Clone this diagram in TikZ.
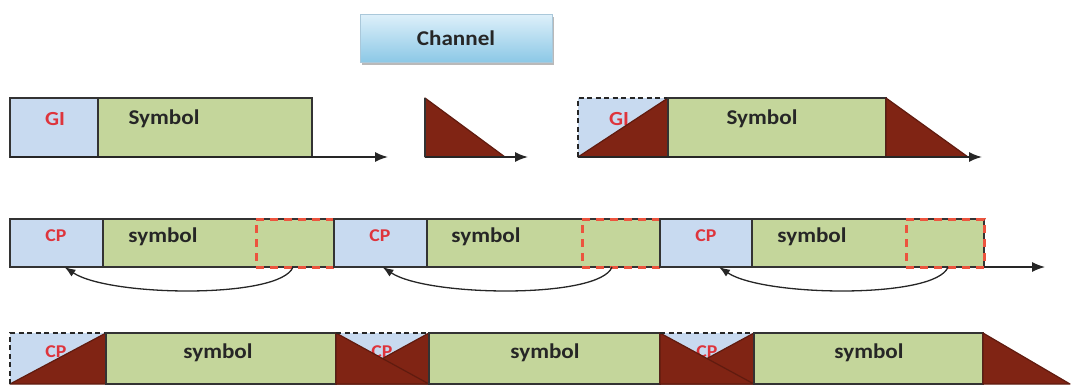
\documentclass[tikz,border=0pt]{standalone}
\usepackage{fontspec}
\setmainfont{Carlito}
\newfontfamily\lblfont{Carlito}[FakeStretch=1.1]
\usetikzlibrary{arrows.meta,shadows}

\definecolor{guardblue}{RGB}{200,218,240}
\definecolor{symgreen}{RGB}{196,214,155}
\definecolor{chanred}{RGB}{128,36,20}
\definecolor{lblred}{RGB}{222,52,60}
\definecolor{cpdash}{RGB}{236,84,62}
\definecolor{txtgray}{RGB}{38,38,38}

\begin{document}
\begin{tikzpicture}[x=1pt,y=-1pt,
  cell/.style={inner sep=0pt, outer sep=0pt, anchor=north west},
  guard/.style={cell, fill=guardblue, draw=black!80, line width=2pt},
  guardfill/.style={cell, fill=guardblue},
  data/.style={cell, fill=symgreen, draw=black!80, line width=2pt},
  tailcopy/.style={cell, draw=cpdash, line width=3pt, dash pattern=on 8pt off 6pt, minimum height=48pt},
  rowA/.style={minimum height=59pt},
  rowB/.style={minimum height=48pt},
  rowC/.style={minimum height=51pt},
  redlbl/.style={anchor=base, inner sep=0pt, text=lblred, font=\lblfont\bfseries\fontsize{20}{20}\selectfont},
  cplbl/.style={anchor=base, inner sep=0pt, text=lblred, font=\lblfont\bfseries\fontsize{18}{18}\selectfont},
  symlbl/.style={anchor=base, inner sep=0pt, text=txtgray, font=\lblfont\bfseries\fontsize{21}{21}\selectfont},
  echo/.style={fill=chanred, draw=chanred!75!black, line width=1.2pt, line join=round},
  edge/.style={draw=black!80, line width=2pt},
  axis/.style={draw=black!85, line width=1.6pt, -{Latex[length=13pt,width=10pt]}},
  copyarc/.style={draw=black!85, line width=1.3pt, -{Latex[length=11pt,width=8pt]}},
  guarddash/.style={draw=black!85, line width=1.6pt, dash pattern=on 5pt off 3.5pt},
  chanbox/.style={inner sep=0pt, outer sep=0pt, minimum width=192pt, minimum height=48pt,
    top color={rgb,255:red,222;green,240;blue,250}, middle color={rgb,255:red,238;green,248;blue,252},
    bottom color={rgb,255:red,140;green,200;blue,230},
    draw={rgb,255:red,170;green,200;blue,218}, line width=0.6pt,
    drop shadow={shadow xshift=1.5pt, shadow yshift=-2.5pt, fill=black!55},
    text=txtgray, font=\lblfont\bfseries\fontsize{21}{21}\selectfont},
]
\useasboundingbox (0,0) rectangle (1079,386);

% ---------- channel ----------
\node[chanbox] (chan) at (456,38) {Channel};

% ---------- transmitted symbol with guard interval ----------
\node[guard, rowA, minimum width=88pt] (gi1) at (10,98) {};
\node[data, rowA, minimum width=214pt] (sy1) at (98,98) {};
\node[redlbl] (gi1t) at (55,125) {GI};
\node[symlbl] (sy1t) at (164,124) {Symbol};
\coordinate (ax1) at (388,157);
\draw[axis] (gi1.south west) -- (ax1);

% ---------- channel impulse response ----------
\coordinate (h0) at (425,98);
\coordinate (h1) at (425,157);
\coordinate (h2) at (505,157);
\coordinate (ax0) at (528,157);
\filldraw[echo] (h0) -- (h1) -- (h2) -- cycle;
\draw[axis] (h1) -- (ax0);
\draw[edge] (h0) -- (h1);

% ---------- received symbol ----------
\node[guardfill, rowA, minimum width=90pt] (gi2) at (578,98) {};
\node[redlbl] (gi2t) at (619,125) {GI};
\filldraw[echo] (gi2.south west) -- (gi2.north east) -- (gi2.south east) -- cycle;
\draw[guarddash] (gi2.south west) -- (gi2.north west) -- (gi2.north east);
\node[data, rowA, minimum width=218pt] (sy2) at (668,98) {};
\node[symlbl] (sy2t) at (762,124) {Symbol};
\coordinate (tl2) at (968,157);
\filldraw[echo] (sy2.north east) -- (sy2.south east) -- (tl2) -- cycle;
\coordinate (ax2) at (982,157);
\draw[axis] (gi2.south west) -- (ax2);

% ---------- cyclic prefix stream ----------
\node[guard, rowB, minimum width=93pt] (cpa) at (10,219) {};
\node[data, rowB, minimum width=231pt] (sya) at (103,219) {};
\node[tailcopy, minimum width=78pt] (tla) at (256,219) {};
\node[cplbl] (cpat) at (56,241) {CP};
\node[symlbl] (syat) at (163,242) {symbol};

\node[guard, rowB, minimum width=93pt] (cpb) at (334,219) {};
\node[data, rowB, minimum width=233pt] (syb) at (427,219) {};
\node[tailcopy, minimum width=78pt] (tlb) at (582,219) {};
\node[cplbl] (cpbt) at (380,241) {CP};
\node[symlbl] (sybt) at (486,242) {symbol};

\node[guard, rowB, minimum width=92pt] (cpc) at (660,219) {};
\node[data, rowB, minimum width=232pt] (syc) at (752,219) {};
\node[tailcopy, minimum width=78pt] (tlc) at (906,219) {};
\node[cplbl] (cpct) at (706,241) {CP};
\node[symlbl] (syct) at (812,242) {symbol};

\coordinate (ax3) at (1045,267);
\draw[axis, line width=1.3pt] (tlc.south east) -- (ax3);

\draw[copyarc] ([xshift=-2pt]tla.south) .. controls +(-12,32) and +(45,30) .. ([xshift=8pt]cpa.south);
\draw[copyarc] ([xshift=-9pt]tlb.south) .. controls +(-12,32) and +(45,30) .. ([xshift=2pt]cpb.south);
\draw[copyarc] ([xshift=3pt]tlc.south) .. controls +(-12,32) and +(45,30) .. ([xshift=13pt]cpc.south);

% ---------- received cyclic prefix stream ----------
\node[guardfill, rowC, minimum width=96pt] (cg1) at (10,333) {};
\node[cplbl] (cg1t) at (56,357) {CP};
\filldraw[echo] (cg1.south west) -- (cg1.north east) -- (cg1.south east) -- cycle;
\draw[guarddash] (cg1.south west) -- (cg1.north west) -- (cg1.north east);
\node[data, rowC, minimum width=230pt] (cs1) at (106,333) {};
\node[symlbl] (cs1t) at (218,358) {symbol};

\node[guardfill, rowC, minimum width=93pt] (cg2) at (336,333) {};
\node[cplbl] (cg2t) at (382,357) {CP};
\filldraw[echo] (cg2.south west) -- (cg2.north east) -- (cg2.south east) -- cycle;
\filldraw[echo] (cg2.north west) -- (cg2.south west) -- (cg2.south east) -- cycle;
\draw[guarddash] (cg2.north west) -- (cg2.north east);
\node[data, rowC, minimum width=231pt] (cs2) at (429,333) {};
\node[symlbl] (cs2t) at (545,358) {symbol};

\node[guardfill, rowC, minimum width=94pt] (cg3) at (660,333) {};
\node[cplbl] (cg3t) at (707,357) {CP};
\filldraw[echo] (cg3.south west) -- (cg3.north east) -- (cg3.south east) -- cycle;
\filldraw[echo] (cg3.north west) -- (cg3.south west) -- (cg3.south east) -- cycle;
\draw[guarddash] (cg3.north west) -- (cg3.north east);
\node[data, rowC, minimum width=229pt] (cs3) at (754,333) {};
\node[symlbl] (cs3t) at (869,358) {symbol};
\coordinate (tl3) at (1070,384);
\filldraw[echo] (cs3.north east) -- (cs3.south east) -- (tl3) -- cycle;
\end{tikzpicture}
\end{document}
